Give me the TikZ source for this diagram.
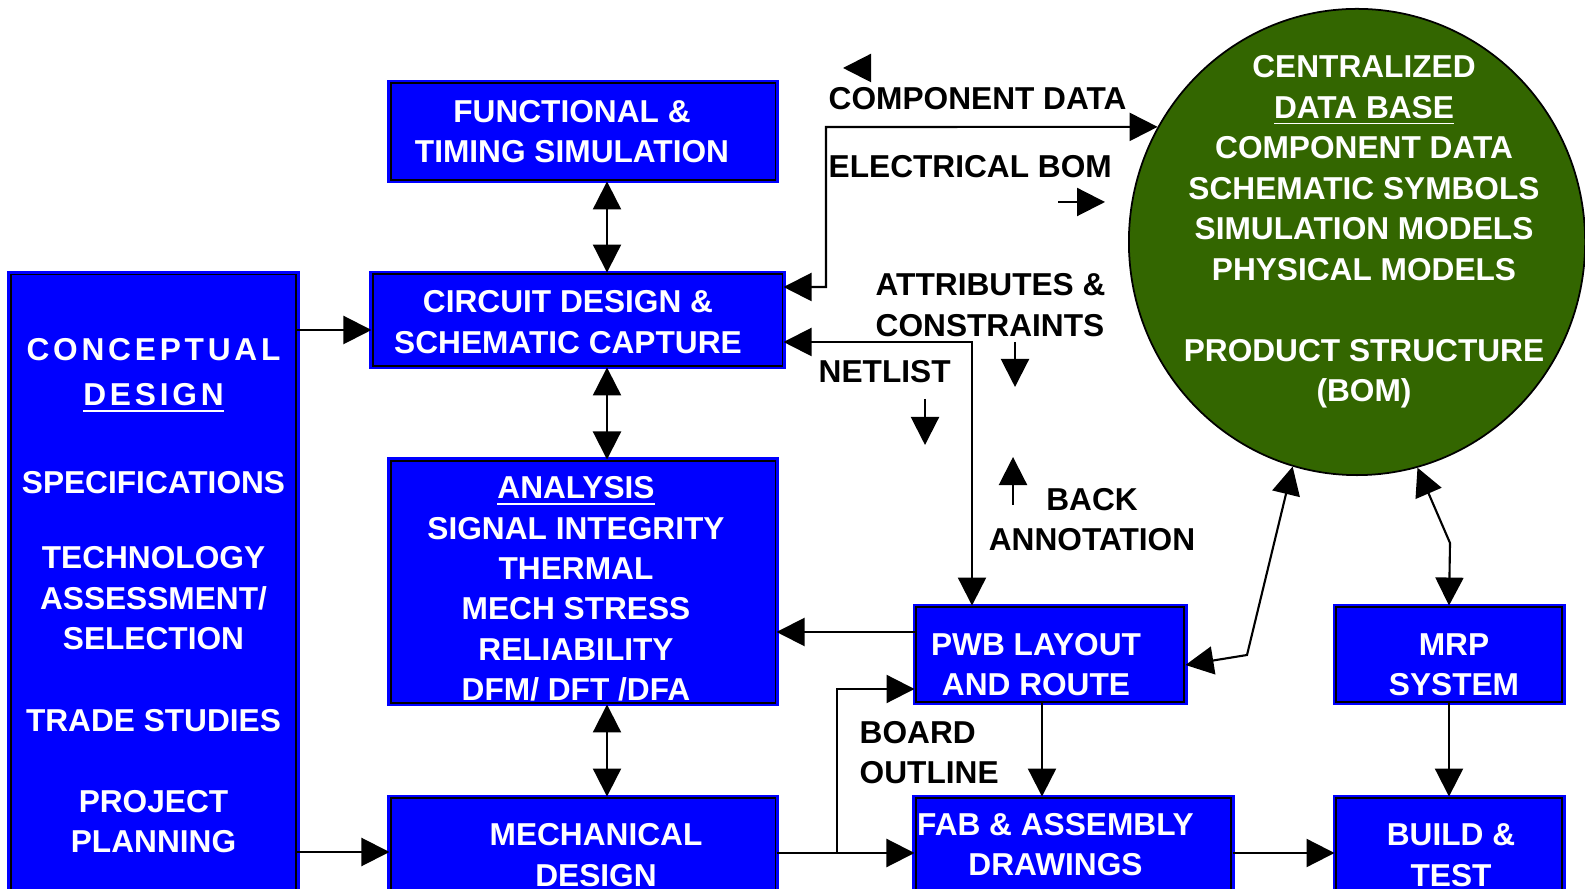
\documentclass[tikz,border=0pt]{standalone}
\usepackage{fontspec}
\setmainfont{Liberation Sans}
\usepackage{xcolor}
\usetikzlibrary{arrows.meta,shapes.geometric}
\definecolor{dbgreen}{RGB}{51,102,0}

\begin{document}
\begin{tikzpicture}[x=0.01cm, y=-0.01cm,
    every node/.style={font=\bfseries\fontsize{9}{11.5}\selectfont},
    every label/.style={text=white, align=center, inner sep=0pt},
    blk/.style={draw=blue, double=black, double distance=0.35pt, line width=0.8pt,
                fill=blue, inner sep=0pt},
    lbl/.style={anchor=west, align=left, inner sep=0pt},
    oneway/.style={line width=0.6pt, -{Triangle[length=0.28cm,width=0.28cm]}},
    twoway/.style={line width=0.6pt, {Triangle[length=0.28cm,width=0.28cm]}-{Triangle[length=0.28cm,width=0.28cm]}}]
            \useasboundingbox (0,0) rectangle (1585,889);
            \clip (0,0) rectangle (1585,889);

            \draw (583,131.5) node[blk, minimum width=3.84cm, minimum height=0.97cm,
                label={[xshift=-0.11cm]center:{FUNCTIONAL \&\\TIMING SIMULATION}}]                (fun) {};
            \draw (577.5,320) node[blk, minimum width=4.09cm, minimum height=0.92cm,
                label={[xshift=-0.095cm, yshift=-0.02cm]center:{CIRCUIT DESIGN \&\\SCHEMATIC CAPTURE}}] (cir) {};
            \draw (583,582) node[blk, minimum width=3.84cm, minimum height=2.42cm,
                label={[xshift=-0.07cm, yshift=-0.07cm]center:{\underline{ANALYSIS}\\SIGNAL INTEGRITY\\THERMAL\\MECH STRESS\\RELIABILITY\\DFM/ DFT /DFA}}] (ana) {};
            \draw (583,855) node[blk, minimum width=3.84cm, minimum height=1.14cm,
                label={[xshift=0.13cm]center:{MECHANICAL\\DESIGN}}]                              (mec) {};
            \draw (153.5,596) node[blk, minimum width=2.85cm, minimum height=6.42cm,
                label={center:{{\addfontfeatures{LetterSpace=12}CONCEPTUAL}\\[1.3pt]
                \underline{\addfontfeatures{LetterSpace=12}DESIGN}\\[13.5pt]SPECIFICATIONS\\[9.8pt]TECHNOLOGY\\ASSESSMENT/\\SELECTION\\[11.8pt]TRADE STUDIES\\[11.5pt]PROJECT\\PLANNING}}] (con) {};
            \draw (1050,654.5) node[blk, minimum width=2.68cm, minimum height=0.95cm,
                label={[xshift=-0.14cm, yshift=-0.10cm]center:{PWB LAYOUT\\AND ROUTE}}]         (pwb) {};
            \draw (1073.5,847) node[blk, minimum width=3.15cm, minimum height=0.98cm,
                label={[xshift=-0.18cm, yshift=0.025cm]center:{FAB \& ASSEMBLY\\DRAWINGS}}]     (fab) {};
            \draw (1449,654.5) node[blk, minimum width=2.26cm, minimum height=0.95cm,
                label={[xshift=0.05cm, yshift=-0.10cm]center:{MRP\\SYSTEM}}]                    (mrp) {};
            \draw (1449,855) node[blk, minimum width=2.26cm, minimum height=1.14cm,
                label={[xshift=0.02cm]center:{BUILD \&\\TEST}}]                                 (bld) {};
            \draw (1357,242) node[ellipse, draw=black, line width=0.5pt, fill=dbgreen,
                minimum width=4.56cm, minimum height=4.66cm, inner sep=0pt]                     (db) {};
            \draw (1364,232) node[text=white, align=center, inner sep=0pt] (dbtxt) {CENTRALIZED\\\underline{DATA BASE}\\COMPONENT DATA\\SCHEMATIC SYMBOLS\\SIMULATION MODELS\\PHYSICAL MODELS\\[11.5pt]PRODUCT STRUCTURE\\(BOM)};

            \draw (828,99) node[lbl]    (cmpdat) {COMPONENT DATA};
            \draw (828,167) node[lbl]   (elbom) {ELECTRICAL BOM};
            \draw (875,305) node[lbl]   (attr) {ATTRIBUTES \&\\CONSTRAINTS};
            \draw (818,372) node[lbl]   (net) {NETLIST};
            \draw (1092,519.5) node[align=center, inner sep=0pt] (back) {BACK\\ANNOTATION};
            \draw (859,752.5) node[lbl] (outl) {BOARD\\OUTLINE};

            \coordinate (spine) at (607,0);
            \coordinate (brd) at (837,853);
            \draw[twoway] (fun.south -| spine) -- (cir.north -| spine);
            \draw[twoway] (cir.south -| spine) -- (ana.north -| spine);
            \draw[twoway] (ana.south -| spine) -- (mec.north -| spine);
            \draw[oneway] (con.east |- 0,330) -- (cir.west |- 0,330);
            \draw[oneway] (con.east |- 0,852) -- (mec.west |- 0,852);
            \draw[twoway] (cir.east |- 0,287) -| (826,127) -- (db.150);
            \draw[twoway] (cir.east |- 0,342) -| (pwb.north -| 972,0);
            \draw[oneway] (pwb.west |- 0,632) -- (ana.east |- 0,632);
            \draw[oneway] (mec.east |- 0,853) -- (fab.west |- 0,853);
            \draw[oneway] (brd) |- (pwb.west |- 0,689);
            \draw[oneway] (pwb.south -| 1042,0) -- (fab.north -| 1042,0);
            \draw[twoway] (pwb.east |- 0,665) -- (1247,655) -- (db.254);
            \draw[twoway] (db.285) -- (1450,543) -- (mrp.north);
            \draw[oneway] (mrp.south) -- (bld.north);
            \draw[oneway] (fab.east |- 0,853) -- (bld.west |- 0,853);

            \draw[oneway] (867,68) -- (843,68);
            \draw[oneway] (1058,202) -- (1105,202);
            \draw[oneway] (1015,342) -- (1015,387);
            \draw[oneway] (925,399) -- (925,445);
            \draw[oneway] (1013,505) -- (1013,457);

            \end{tikzpicture}
\end{document}
